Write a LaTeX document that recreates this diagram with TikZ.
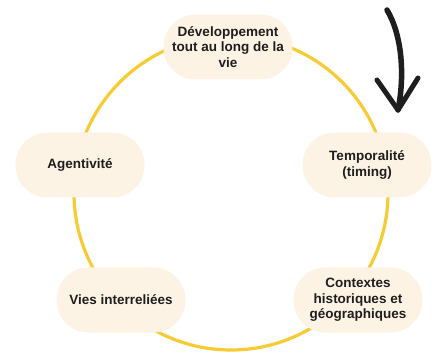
\documentclass[tikz,border=0pt]{standalone}
\usepackage{fontspec}
\setmainfont{Liberation Sans}
\definecolor{creme}{HTML}{FDF3E5}
\definecolor{anneau}{HTML}{F6CB33}
\definecolor{encre}{HTML}{1E1E1E}
\tikzset{
  etape/.style={draw=none,fill=creme,rounded corners=32pt,minimum width=129pt,
    minimum height=65pt,align=center,text=encre,
    font=\fontsize{13.5}{15.5}\selectfont\bfseries},
  anneau/.style={draw=anneau,line width=3.2pt}
}
\begin{document}
\begin{tikzpicture}[x=1pt,y=-1pt]
      \useasboundingbox (0,0) rectangle (434,358);
      \coordinate (centre) at (231,193);
      \draw[anneau] (centre) circle (157pt);
      \def \Etapes{
        dev/228/47/{D\'eveloppement\\tout au long de la\\vie},
        temps/367/165/{Temporalit\'e\\(timing)},
        contextes/358/300/{Contextes\\historiques et\\g\'eographiques},
        vies/121/300/{Vies interreli\'ees},
        agent/80/165/{Agentivit\'e}}
      \foreach \id / \x / \y / \txt in \Etapes{
        \node[etape] (\id) at (\x, \y) {\txt};
      }
      % fleche dessinee a la main
      \draw[encre,line width=5.5pt,line cap=round,line join=round]
        (387,10) .. controls (402,35) and (405,75) .. (398,110);
      \draw[encre,line width=5pt,line cap=round,line join=round]
        (377,80) -- (398,110) -- (418,78);
    \end{tikzpicture}
\end{document}
